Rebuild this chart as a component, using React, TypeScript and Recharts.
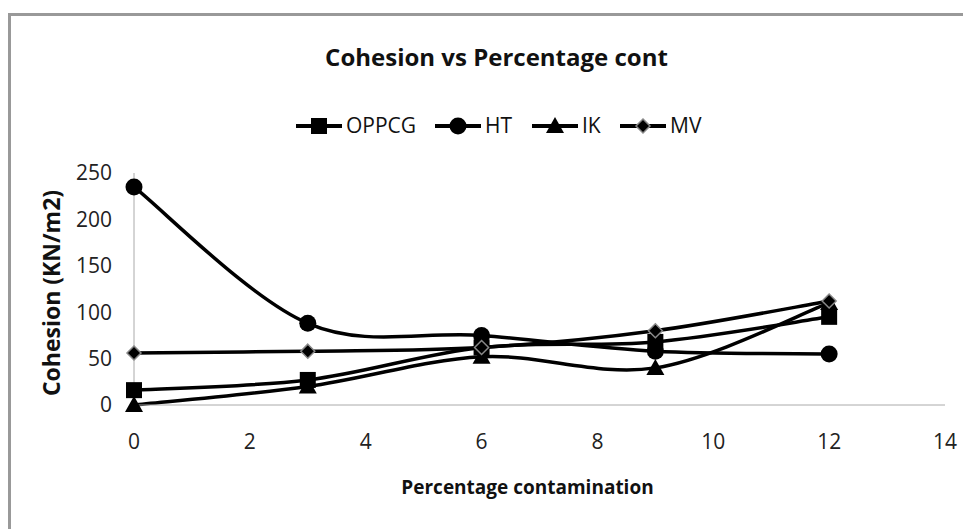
import React from "react";
import { LineChart, Line, XAxis, YAxis, Label } from "recharts";

const percent = [0, 3, 6, 9, 12];
const oppcg = [16, 27, 62, 68, 95];
const ht = [235, 88, 75, 58, 55];
const ik = [0, 20, 52, 40, 110];
const mv = [56, 58, 62, 80, 112];
const xTicks = [0, 2, 4, 6, 8, 10, 12, 14];
const yTicks = [0, 50, 100, 150, 200, 250];

const data = percent.map((p, i) => ({ p, OPPCG: oppcg[i], HT: ht[i], IK: ik[i], MV: mv[i] }));

const FONT = "'Open Sans', sans-serif";

// Excel-style smoothed line (Catmull-Rom through the points)
const smoothCurve = (context: any) => {
  let pts: number[][] = [];
  return {
    areaStart() {},
    areaEnd() {},
    lineStart() {
      pts = [];
    },
    point(x: number, y: number) {
      pts.push([+x, +y]);
    },
    lineEnd() {
      const n = pts.length;
      if (!n) return;
      context.moveTo(pts[0][0], pts[0][1]);
      for (let i = 0; i < n - 1; i++) {
        const p0 = pts[Math.max(i - 1, 0)];
        const p1 = pts[i];
        const p2 = pts[i + 1];
        const p3 = pts[Math.min(i + 2, n - 1)];
        context.bezierCurveTo(
          p1[0] + (p2[0] - p0[0]) / 6,
          p1[1] + (p2[1] - p0[1]) / 6,
          p2[0] - (p3[0] - p1[0]) / 6,
          p2[1] - (p3[1] - p1[1]) / 6,
          p2[0],
          p2[1]
        );
      }
    },
  };
};

type Shape = "square" | "circle" | "triangle" | "diamond";

function marker(shape: Shape, cx: number, cy: number, key?: string) {
  if (shape === "square") return <rect key={key} x={cx - 8} y={cy - 8} width={16} height={16} fill="#000" />;
  if (shape === "circle") return <circle key={key} cx={cx} cy={cy} r={8.5} fill="#000" />;
  if (shape === "triangle")
    return <polygon key={key} points={`${cx},${cy - 9} ${cx + 9},${cy + 7} ${cx - 9},${cy + 7}`} fill="#000" />;
  return (
    <polygon
      key={key}
      points={`${cx},${cy - 7} ${cx + 7},${cy} ${cx},${cy + 7} ${cx - 7},${cy}`}
      fill="#000"
      stroke="#888"
      strokeWidth={1.5}
    />
  );
}

const dotFor = (shape: Shape) => (props: any) => {
  const { cx, cy, index, key } = props;
  return <g key={key ?? `${shape}-${index}`}>{marker(shape, cx, cy)}</g>;
};

const series: { name: string; shape: Shape }[] = [
  { name: "OPPCG", shape: "square" },
  { name: "HT", shape: "circle" },
  { name: "IK", shape: "triangle" },
  { name: "MV", shape: "diamond" },
];

const legendPos = [296, 435, 532, 620];

function LegendBar() {
  return (
    <svg width={963} height={40} style={{ position: "absolute", left: 0, top: 98 }}>
      {series.map((s, i) => {
        const x0 = legendPos[i] - 8;
        return (
          <g key={s.name}>
            <line x1={x0} y1={20} x2={x0 + 46} y2={20} stroke="#000" strokeWidth={4} />
            {marker(s.shape, x0 + 23, 20)}
            <text x={x0 + 50} y={27} fontFamily={FONT} fontSize={21} fill="#111">
              {s.name}
            </text>
          </g>
        );
      })}
    </svg>
  );
}

export default function App() {
  return (
    <div style={{ position: "relative", width: 963, height: 521, background: "#fff" }}>
      <div
        style={{
          position: "absolute",
          left: 0,
          top: 5,
          width: 980,
          height: 540,
          borderLeft: "3px solid #999",
          borderTop: "3px solid #999",
          boxSizing: "border-box",
        }}
      />
      <div
        style={{
          position: "absolute",
          left: 0,
          width: 963,
          top: 32,
          textAlign: "center",
          fontFamily: FONT,
          fontWeight: "bold",
          fontSize: 24,
          color: "#111",
          paddingLeft: 14,
          boxSizing: "border-box",
        }}
      >
        Cohesion vs Percentage cont
      </div>
      <LegendBar />
      <div style={{ position: "absolute", left: 0, top: 0 }}>
        <LineChart width={963} height={521} data={data} margin={{ top: 165, right: 26, left: 0, bottom: 0 }}>
          <XAxis
            dataKey="p"
            type="number"
            domain={[0, 14]}
            ticks={xTicks}
            height={124}
            tickLine={false}
            tickSize={0}
            tickMargin={29}
            stroke="#aaa"
            tick={{ fill: "#222", fontFamily: FONT, fontSize: 21 }}
          >
            <Label
              value="Percentage contamination"
              position="insideTop"
              offset={76}
              dx={-12}
              style={{ fontFamily: FONT, fontWeight: "bold", fontSize: 19, fill: "#111" }}
            />
          </XAxis>
          <YAxis
            type="number"
            domain={[0, 250]}
            ticks={yTicks}
            width={126}
            tickLine={false}
            tickSize={0}
            tickMargin={22}
            stroke="#aaa"
            tick={{ fill: "#222", fontFamily: FONT, fontSize: 21 }}
          >
            <Label
              value="Cohesion (KN/m2)"
              angle={-90}
              position="insideLeft"
              offset={44}
              dy={4}
              style={{ fontFamily: FONT, fontWeight: "bold", fontSize: 23, fill: "#111", textAnchor: "middle" }}
            />
          </YAxis>
          {series.map((s) => (
            <Line
              key={s.name}
              dataKey={s.name}
              type={smoothCurve as any}
              stroke="#000"
              strokeWidth={3.5}
              dot={dotFor(s.shape)}
              activeDot={false}
              isAnimationActive={false}
            />
          ))}
        </LineChart>
      </div>
    </div>
  );
}
